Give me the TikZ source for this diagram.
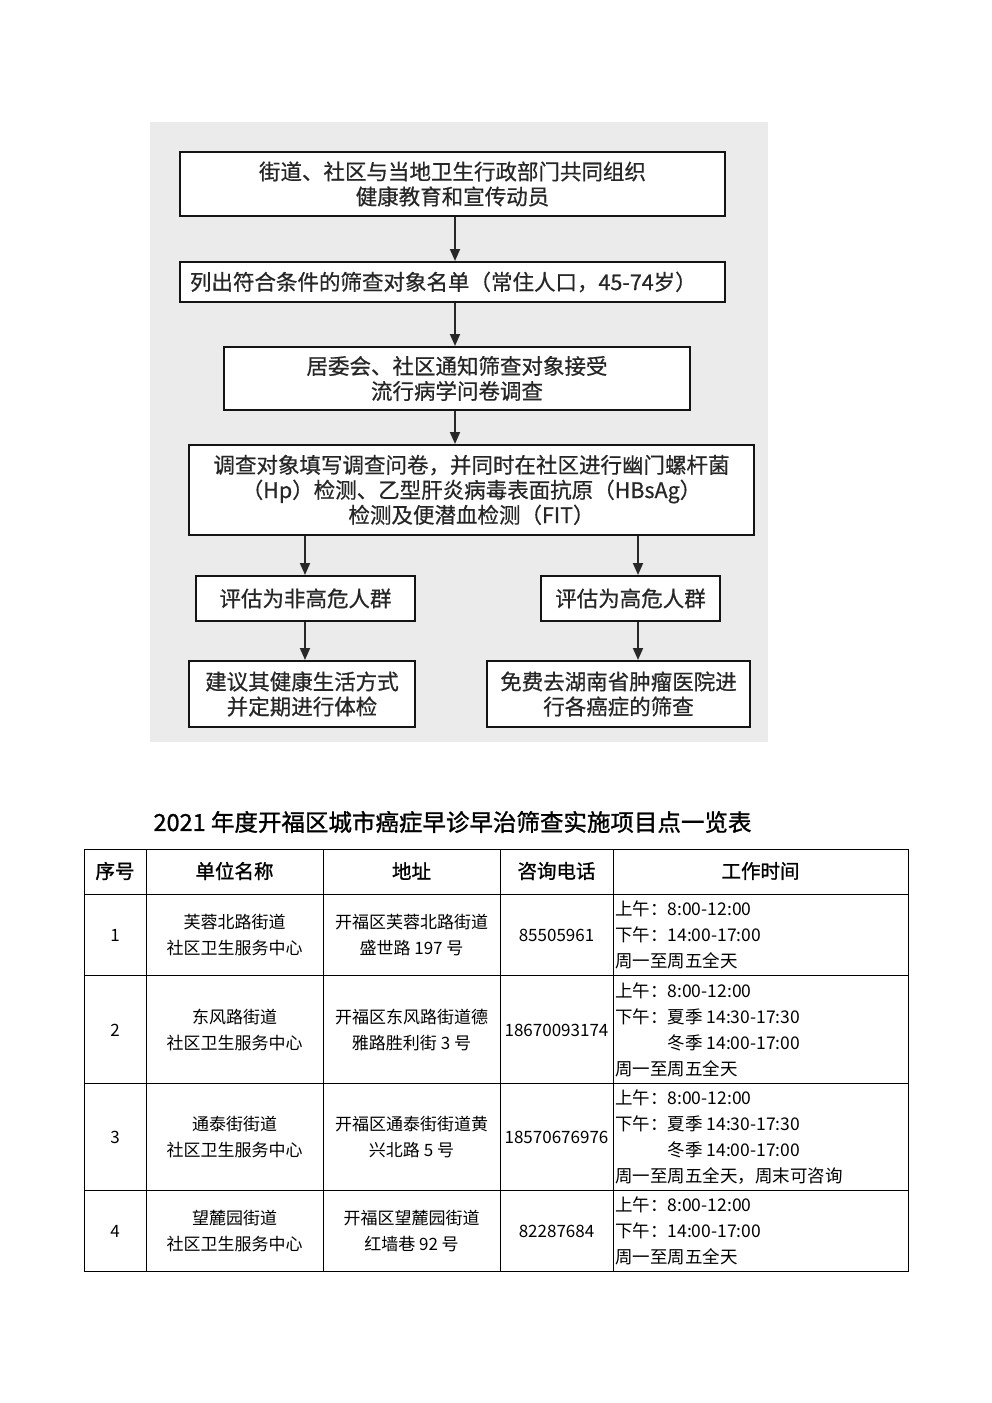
\documentclass[tikz,border=0pt]{standalone}
\usepackage{fontspec}
\setmainfont{Noto Sans CJK SC}
\newfontfamily\heavyfont[FakeBold=1.2]{Noto Sans CJK SC}
\newfontfamily\midfont[FakeBold=0.6]{Noto Sans CJK SC}
\usetikzlibrary{arrows.meta}
\definecolor{bggray}{RGB}{235,235,235}
\definecolor{boxline}{RGB}{20,20,20}
\definecolor{arrgray}{RGB}{40,40,40}
\begin{document}
\begin{tikzpicture}[x=1pt,y=-1pt,
  flowbox/.style={draw=boxline, line width=2pt, fill=white, inner sep=0pt, align=center,
    font=\midfont\fontsize{21.5}{25}\selectfont, text=black!85},
  flowarr/.style={draw=arrgray, line width=1.8pt, -{Triangle[width=10pt,length=12pt]}},
  headtxt/.style={font=\heavyfont\fontsize{19.5}{24}\selectfont, inner sep=0pt},
  celltxt/.style={font=\fontsize{17}{26}\selectfont, inner sep=0pt, align=center},
  timetxt/.style={font=\fontsize{17.5}{26}\selectfont, inner sep=0pt, align=left, anchor=west},
  grid/.style={line width=1pt, black}
]
\useasboundingbox (0,0) rectangle (992,1403);
\fill[white] (0,0) rectangle (992,1403);
% gray background
\fill[bggray] (150,122) rectangle (768,742);

% flowchart boxes
\node[flowbox, minimum width=545pt, minimum height=64pt] (b1) at (452.5,184)
  {街道、社区与当地卫生行政部门共同组织\\健康教育和宣传动员};
\node[flowbox, align=left, text width=525pt, inner xsep=10pt, minimum height=40pt] (b2) at (452.5,282)
  {列出符合条件的筛查对象名单（常住人口，45-74岁）};
\node[flowbox, minimum width=466pt, minimum height=63pt] (b3) at (457,378.5)
  {居委会、社区通知筛查对象接受\\流行病学问卷调查};
\node[flowbox, minimum width=565pt, minimum height=90pt] (b4) at (471.5,490)
  {调查对象填写调查问卷，并同时在社区进行幽门螺杆菌\\（Hp）检测、乙型肝炎病毒表面抗原（HBsAg）\\检测及便潜血检测（FIT）};
\node[flowbox, minimum width=219pt, minimum height=45pt] (b5) at (305.5,598.5) {评估为非高危人群};
\node[flowbox, minimum width=179pt, minimum height=45pt] (b6) at (630.5,598.5) {评估为高危人群};
\node[flowbox, minimum width=226pt, minimum height=66pt] (b7) at (302,694)
  {建议其健康生活方式\\并定期进行体检};
\node[flowbox, minimum width=263pt, minimum height=66pt] (b8) at (618.5,694)
  {免费去湖南省肿瘤医院进\\行各癌症的筛查};

\coordinate (xc) at (455,0);
\coordinate (xl) at (305,0);
\coordinate (xr) at (638,0);
\draw[flowarr] (b1.south -| xc) -- (b2.north -| xc);
\draw[flowarr] (b2.south -| xc) -- (b3.north -| xc);
\draw[flowarr] (b3.south -| xc) -- (b4.north -| xc);
\draw[flowarr] (b4.south -| xl) -- (b5.north -| xl);
\draw[flowarr] (b4.south -| xr) -- (b6.north -| xr);
\draw[flowarr] (b5.south -| xl) -- (b7.north -| xl);
\draw[flowarr] (b6.south -| xr) -- (b8.north -| xr);

% title
\node[inner sep=0pt, font=\heavyfont\fontsize{23.5}{28}\selectfont] (title) at (452.5,822)
  {2021 年度开福区城市癌症早诊早治筛查实施项目点一览表};

% table grid
\draw[grid] (84,849) rectangle (908,1271);
\foreach \yy in {894,975,1083,1190} \draw[grid] (84,\yy) -- (908,\yy);
\foreach \xx in {146,323,500,613} \draw[grid] (\xx,849) -- (\xx,1271);

% header
\node[headtxt] (h1) at (115,871) {序号};
\node[headtxt] (h2) at (234.5,871) {单位名称};
\node[headtxt] (h3) at (411.5,871) {地址};
\node[headtxt] (h4) at (556.5,871) {咨询电话};
\node[headtxt] (h5) at (760.5,871) {工作时间};

% row 1
\node[celltxt] (r1c1) at (115,935) {1};
\node[celltxt] (r1c2) at (234.5,935) {芙蓉北路街道\\社区卫生服务中心};
\node[celltxt] (r1c3) at (411.5,935) {开福区芙蓉北路街道\\盛世路 197 号};
\node[celltxt] (r1c4) at (556.5,935) {85505961};
\node[timetxt] (r1c5) at (615,935) {上午：8:00-12:00\\下午：14:00-17:00\\周一至周五全天};

% row 2
\node[celltxt] (r2c1) at (115,1030) {2};
\node[celltxt] (r2c2) at (234.5,1030) {东风路街道\\社区卫生服务中心};
\node[celltxt] (r2c3) at (411.5,1030) {开福区东风路街道德\\雅路胜利街 3 号};
\node[celltxt] (r2c4) at (556.5,1030) {18670093174};
\node[timetxt] (r2c5) at (615,1030) {上午：8:00-12:00\\下午：夏季 14:30-17:30\\\hspace*{3em}冬季 14:00-17:00\\周一至周五全天};

% row 3
\node[celltxt] (r3c1) at (115,1137) {3};
\node[celltxt] (r3c2) at (234.5,1137) {通泰街街道\\社区卫生服务中心};
\node[celltxt] (r3c3) at (411.5,1137) {开福区通泰街街道黄\\兴北路 5 号};
\node[celltxt] (r3c4) at (556.5,1137) {18570676976};
\node[timetxt] (r3c5) at (615,1137) {上午：8:00-12:00\\下午：夏季 14:30-17:30\\\hspace*{3em}冬季 14:00-17:00\\周一至周五全天，周末可咨询};

% row 4
\node[celltxt] (r4c1) at (115,1231) {4};
\node[celltxt] (r4c2) at (234.5,1231) {望麓园街道\\社区卫生服务中心};
\node[celltxt] (r4c3) at (411.5,1231) {开福区望麓园街道\\红墙巷 92 号};
\node[celltxt] (r4c4) at (556.5,1231) {82287684};
\node[timetxt] (r4c5) at (615,1231) {上午：8:00-12:00\\下午：14:00-17:00\\周一至周五全天};
\end{tikzpicture}
\end{document}
